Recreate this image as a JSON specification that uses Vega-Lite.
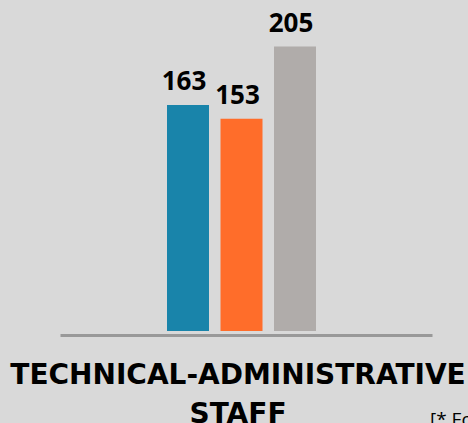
{
  "$schema": "https://vega.github.io/schema/vega-lite/v6.json",
  "width": 468,
  "height": 331,
  "autosize": {"type": "none"},
  "padding": {"left": 0, "top": 0, "right": 0, "bottom": 92},
  "background": "#d9d9d9",
  "config": {"view": {"stroke": null}},
  "title": {
    "text": "[* Fo",
    "orient": "top",
    "anchor": "start",
    "frame": "group",
    "dx": 430,
    "dy": 434,
    "font": "Open Sans",
    "fontSize": 19,
    "fontWeight": "normal",
    "color": "#000000"
  },
  "data": {
    "values": [
      {"group": "A", "value": 163},
      {"group": "B", "value": 153},
      {"group": "C", "value": 205}
    ]
  },
  "encoding": {
    "x": {
      "field": "group",
      "type": "nominal",
      "sort": null,
      "scale": {"domain": ["L1", "L2", "A", "B", "C", "R1", "R2"], "range": [60, 432], "paddingInner": 0.215, "paddingOuter": 0.084, "align": 0},
      "axis": {
        "title": ["TECHNICAL-ADMINISTRATIVE", "STAFF"],
        "labels": false,
        "ticks": false,
        "domainColor": "#999999",
        "domainWidth": 3,
        "offset": 4,
        "titleFont": "DejaVu Sans",
        "titleFontSize": 28,
        "titleFontWeight": "bold",
        "titleColor": "#000000",
        "titlePadding": 26,
        "titleLineHeight": 39.5,
        "titleX": 237.5
      }
    },
    "y": {
      "field": "value",
      "type": "quantitative",
      "scale": {"domain": [0, 238.6], "nice": false, "zero": true},
      "axis": null
    }
  },
  "layer": [
    {
      "mark": {"type": "bar"},
      "encoding": {
        "color": {
          "field": "group",
          "type": "nominal",
          "scale": {"domain": ["A", "B", "C"], "range": ["#1984aa", "#ff6d2a", "#b0acaa"]},
          "legend": null
        }
      }
    },
    {
      "mark": {"type": "text", "baseline": "alphabetic", "dy": -15, "dx": -4, "font": "Open Sans", "fontSize": 26, "fontWeight": "bold", "color": "#000000"},
      "encoding": {"text": {"field": "value", "type": "quantitative"}}
    }
  ]
}
